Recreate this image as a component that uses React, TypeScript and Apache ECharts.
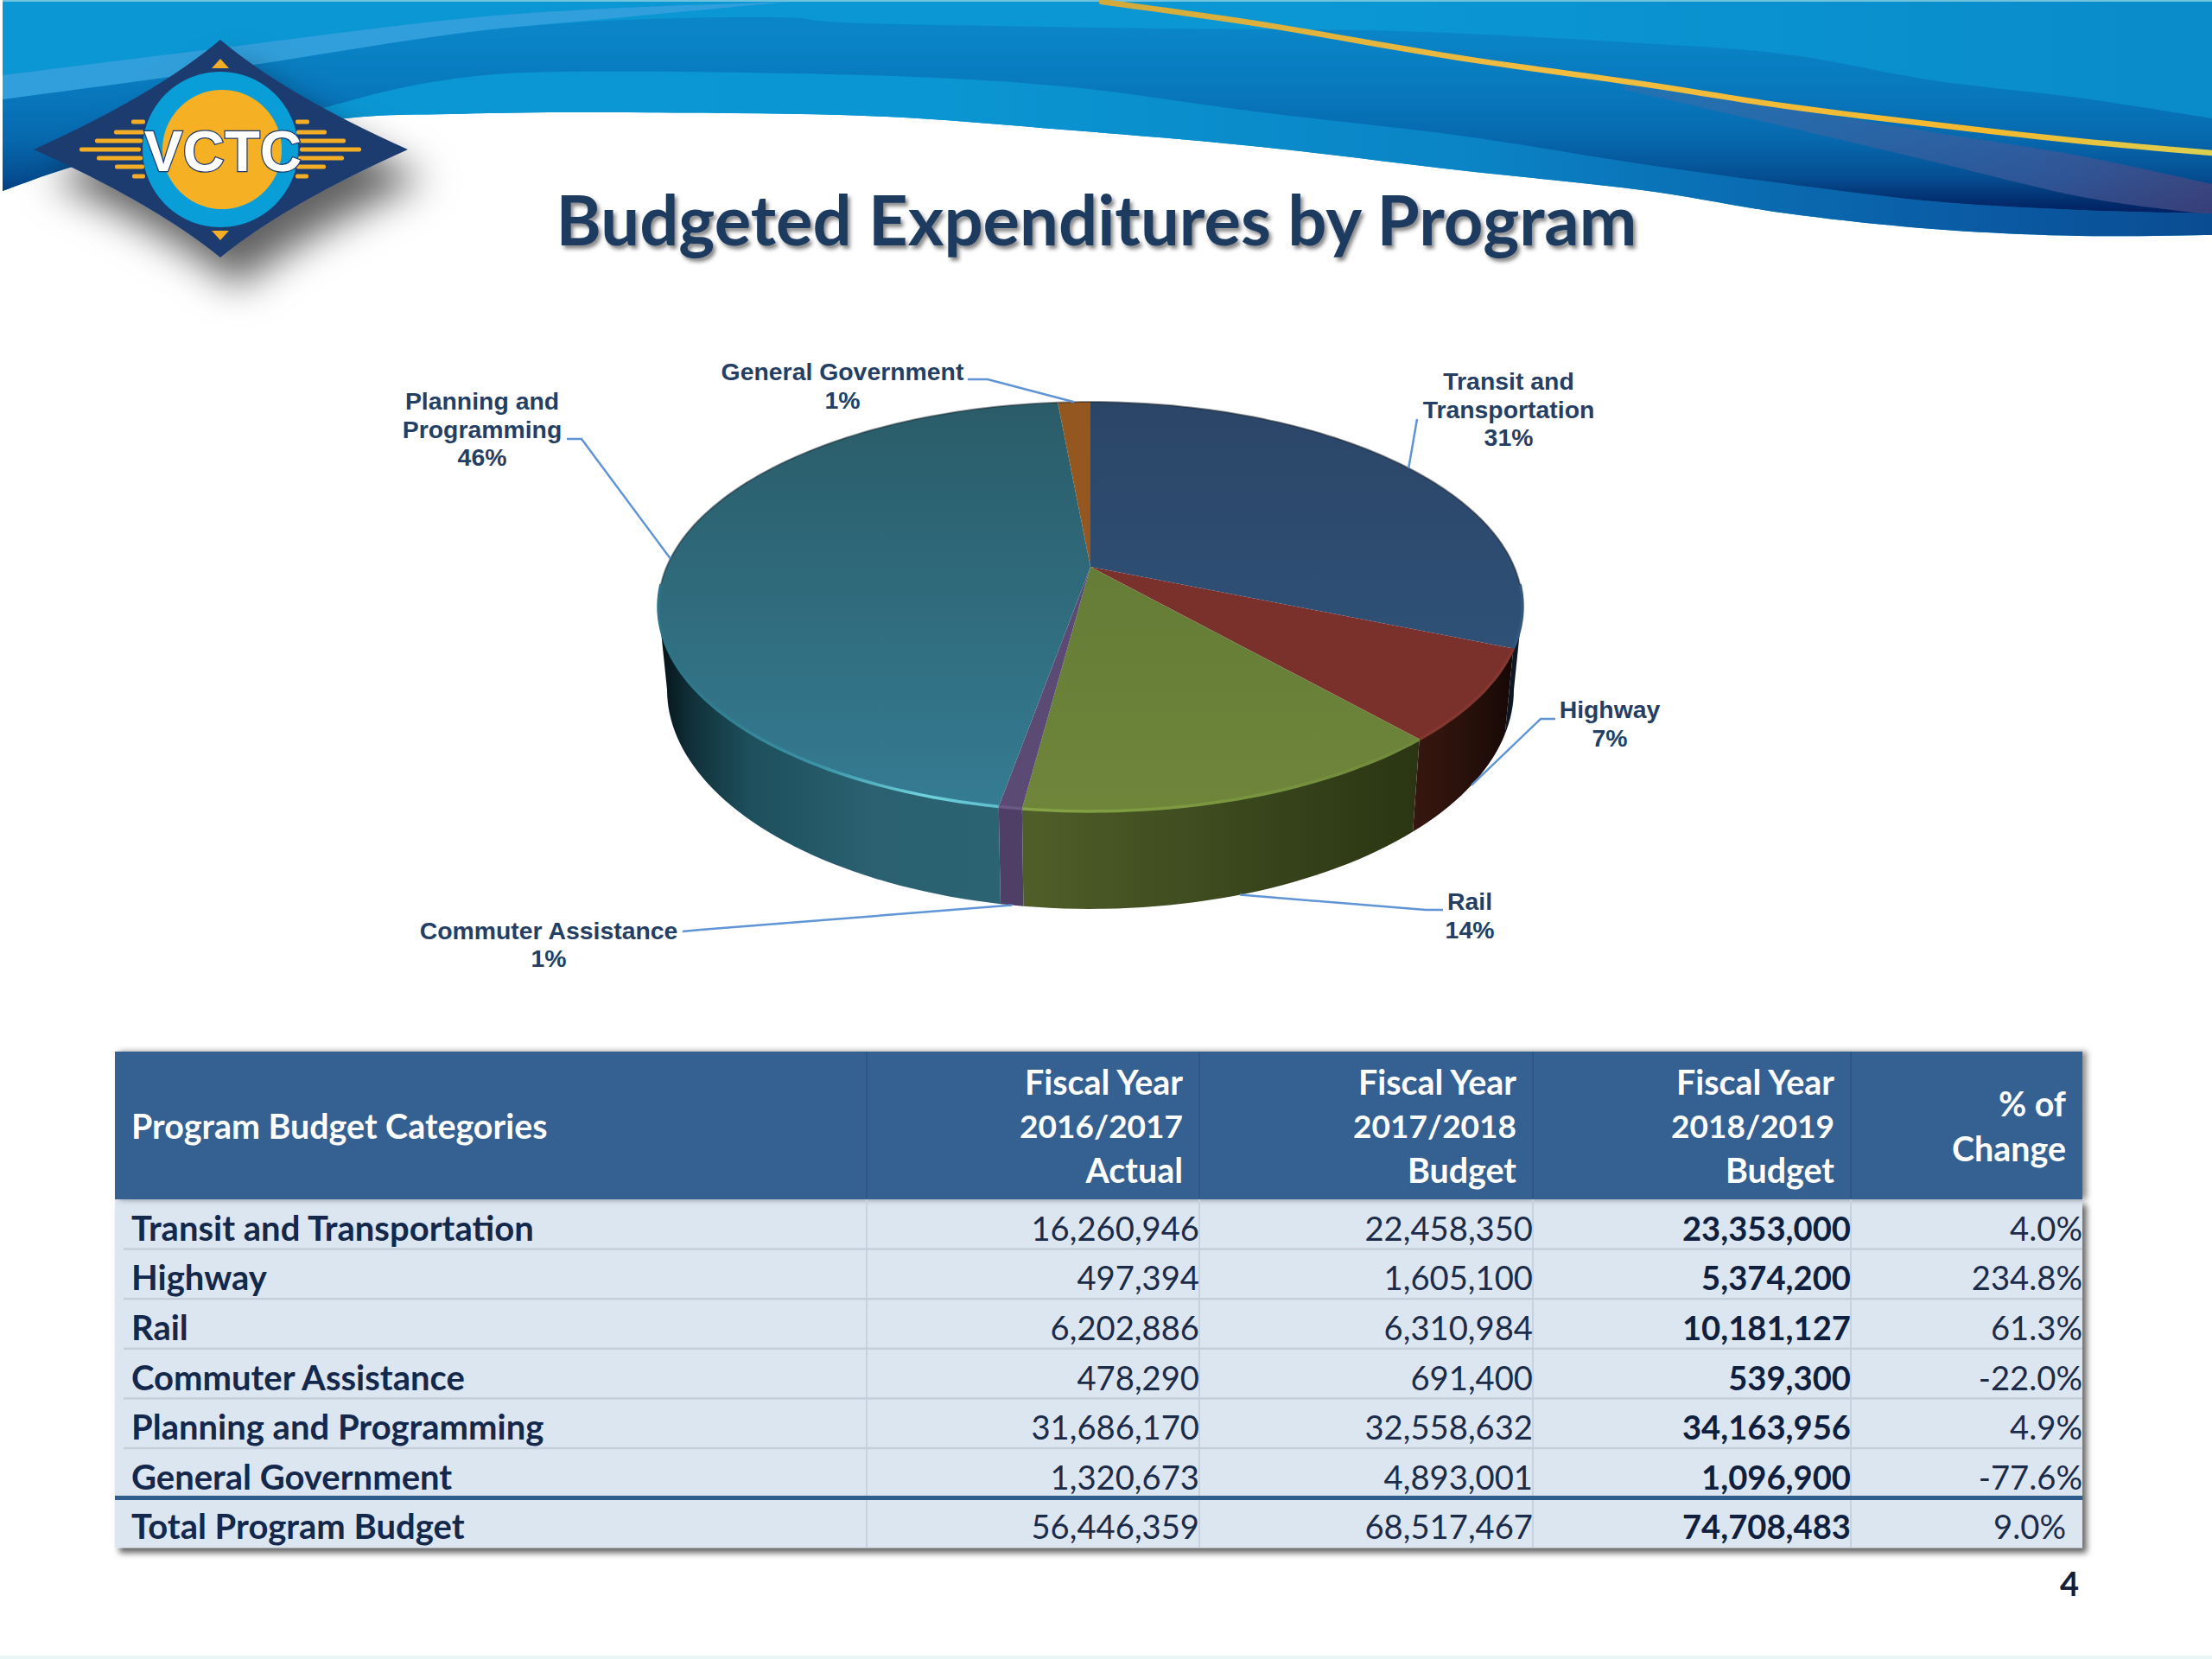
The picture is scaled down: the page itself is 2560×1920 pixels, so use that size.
import React, { useEffect, useRef } from "react";
import * as echarts from "echarts";

const categories = ["Transit and Transportation", "Highway", "Rail", "Commuter Assistance", "Planning and Programming", "General Government"];
const actual1617 = [16260946, 497394, 6202886, 478290, 31686170, 1320673];
const budget1718 = [22458350, 1605100, 6310984, 691400, 32558632, 4893001];
const budget1819 = [23353000, 5374200, 10181127, 539300, 34163956, 1096900];
const pctChange = [4.0, 234.8, 61.3, -22.0, 4.9, -77.6];
const totalLabel = "Total Program Budget";
const totals = [56446359, 68517467, 74708483];
const totalPct = 9.0;
const headerLines = [["Fiscal Year", "2016/2017", "Actual"], ["Fiscal Year", "2017/2018", "Budget"], ["Fiscal Year", "2018/2019", "Budget"]];
const changeHeader = ["% of", "Change"];
const firstHeader = "Program Budget Categories";
const titleText = "Budgeted Expenditures by Program";
const pieLabelLines = [["Transit and", "Transportation"], ["Highway"], ["Rail"], ["Commuter Assistance"], ["Planning and", "Programming"], ["General Government"]];

const LABEL_FONT = '"Liberation Sans"';
const TABLE_FONT = "Lato";

// Pie projection: top face and bottom face are perspective circles
const CX = 1262, K = 0.194;
const TOP = { y: 656, a: 228, b: 490.5 };
const BOT = { y: 748.7, a: 244.4, b: 480.7 };
const TANGENT = 101.2;
const pieSum = budget1819.reduce((a, b) => a + b, 0);
const project = (deg: number, bottom: boolean) => {
  const r = (deg * Math.PI) / 180;
  const u = Math.sin(r), v = Math.cos(r), w = 1 + K * v;
  const f = bottom ? BOT : TOP;
  return [CX + (f.b * u) / w, f.y - (f.a * v) / w];
};
const sliceAngles = (i: number) => {
  let acc = 0;
  for (let j = 0; j < i; j++) acc += budget1819[j];
  return [(acc / pieSum) * 360, ((acc + budget1819[i]) / pieSum) * 360];
};
const arc = (a0: number, a1: number, bottom: boolean) => {
  const n = Math.max(2, Math.ceil(Math.abs(a1 - a0) / 1.5));
  const pts: number[][] = [];
  for (let i = 0; i <= n; i++) pts.push(project(a0 + ((a1 - a0) * i) / n, bottom));
  return pts;
};
const grad = (x: number, y: number, x2: number, y2: number, stops: [number, string][]) => ({
  type: "linear", x, y, x2, y2, global: true,
  colorStops: stops.map(([offset, color]) => ({ offset, color })),
});

const topFills = [
  grad(0, 465, 0, 800, [[0, "#2b4567"], [1, "#2f5379"]]),
  "#7a312c",
  grad(0, 680, 0, 940, [[0, "#667d37"], [1, "#6e853a"]]),
  "#5b4a74",
  grad(0, 465, 0, 930, [[0, "#2a5c68"], [1, "#357b92"]]),
  "#93571f",
];
const rimColors = [
  "#33587f", "#84372f",
  grad(1180, 0, 1640, 0, [[0, "#86a345"], [1, "#6f8a3a"]]),
  "#6a5885",
  grad(780, 0, 1165, 0, [[0, "#2c7486"], [0.45, "#3c96a8"], [0.75, "#6fd2dc"], [1, "#5bbccb"]]),
  "#a0622a",
];
const sideFills = [
  "#0d1824",
  grad(1635, 0, 1752, 0, [[0, "#37170f"], [0.5, "#2a110b"], [1, "#150805"]]),
  grad(1175, 0, 1640, 0, [[0, "#515f2a"], [0.5, "#3c4a1e"], [1, "#2b3513"]]),
  "#4f3f66",
  grad(768, 0, 1165, 0, [[0, "#07161b"], [0.08, "#103039"], [0.25, "#1d4f5c"], [0.6, "#2a6070"], [1, "#2c6473"]]),
  "#222222",
];

const labelLayout = [
  { cx: 1746, ys: [441, 474, 506], from: [[1640, 485]] },
  { cx: 1863, ys: [821, 854], from: [[1800, 832], [1783, 832]] },
  { cx: 1701, ys: [1043, 1076], from: [[1670, 1053], [1650, 1053]] },
  { cx: 635, ys: [1077, 1109], from: [[790, 1078], [811, 1076]] },
  { cx: 558, ys: [464, 497, 529], from: [[656, 508], [673, 508]] },
  { cx: 975, ys: [430, 463], from: [[1120, 439], [1143, 439]] },
];

const spline = (p: number[][]) => {
  const out: number[][] = [];
  for (let i = 0; i < p.length - 1; i++) {
    const p0 = p[Math.max(i - 1, 0)], p1 = p[i], p2 = p[i + 1], p3 = p[Math.min(i + 2, p.length - 1)];
    for (let t = 0; t < 1; t += 0.1) {
      const t2 = t * t, t3 = t2 * t;
      const f = (a: number, b: number, c: number, d: number) => 0.5 * (2 * b + (c - a) * t + (2 * a - 5 * b + 4 * c - d) * t2 + (3 * b - a - 3 * c + d) * t3);
      out.push([f(p0[0], p1[0], p2[0], p3[0]), f(p0[1], p1[1], p2[1], p3[1])]);
    }
  }
  out.push(p[p.length - 1]);
  return out;
};

const whiteEdge = [[3, 221], [87, 192], [200, 165], [400, 137], [520, 132], [700, 130], [1000, 134], [1230, 150], [1459, 170], [1689, 197], [1900, 220], [2068, 247], [2237, 265], [2405, 273], [2560, 272]];
const bandTop = [[3, 115], [260, 80], [520, 40], [700, 24], [898, 20], [1000, 27], [1344, 33], [1620, 36], [1900, 50], [2068, 63], [2237, 93], [2405, 113], [2560, 137]];
const bandBottom = [[300, 150], [367, 127], [500, 95], [653, 83], [1000, 87], [1230, 100], [1459, 130], [1689, 157], [1900, 190], [2068, 213], [2237, 233], [2405, 243], [2560, 247]];
const leftEdge = [[300, 150], [200, 165], [87, 192], [3, 221]];
const lightTop = [[3, 87], [260, 55], [520, 23], [700, 10], [914, 2]];
const lightBottom = [[3, 115], [260, 80], [520, 40], [700, 22], [914, 2]];
const ribbonTop = [[1880, 98], [2068, 126], [2237, 153], [2405, 180], [2560, 213]];
const ribbonBottom = [[1880, 104], [2068, 147], [2237, 187], [2405, 227], [2530, 245], [2560, 247]];
const goldLine = [[1275, 2], [1459, 28], [1689, 67], [1900, 97], [2068, 123], [2237, 144], [2405, 163], [2560, 177]];

const txt = (text: string, x: number, y: number, size: number, weight: string, family: string, fill: string, align: string, extra: any = {}) => ({
  type: "text", x, y, silent: true,
  style: { text, x: 0, y: 0, fill, fontSize: size, fontWeight: weight, fontFamily: family, align, textAlign: align, verticalAlign: "middle", textVerticalAlign: "middle", ...extra },
});

const DIAMOND = "M255 46 Q331 110 472 173 Q331 236 255 298 Q179 236 39 173 Q179 110 255 46 Z";

const fmt = (v: number) => v.toLocaleString("en-US");
const pct = (v: number) => `${v.toFixed(1)}%`;

const buildBackground = () => {
  const els: any[] = [];
  els.push({ type: "rect", shape: { x: 0, y: 0, width: 2560, height: 1920 }, style: { fill: "#ffffff" } });
  els.push({ type: "rect", shape: { x: 0, y: 1916, width: 2560, height: 4 }, style: { fill: "#e6f5f3" } });
  const white = spline(whiteEdge);
  els.push({ type: "polygon", shape: { points: [[3, 2], [2560, 2], ...white.slice().reverse()] }, style: {
    fill: grad(0, 0, 2560, 0, [[0, "#0a97d4"], [0.6, "#0a97d4"], [1, "#0a8bca"]]) } });
  els.push({ type: "rect", shape: { x: 3, y: 0, width: 2557, height: 2 }, style: { fill: "#6fc3dc" } });
  els.push({ type: "polygon", shape: { points: [...spline(bandBottom), ...white.filter((p) => p[0] >= 300).reverse()] }, style: {
    fill: grad(300, 0, 2560, 0, [[0, "#0a97d4"], [0.35, "#0a96d2"], [0.62, "#0a84c6"], [0.75, "#0a6eb3"], [0.88, "#0a5ba4"], [1, "#0a4c92"]]) } });
  els.push({ type: "polygon", shape: { points: [...spline(bandTop), ...spline(bandBottom).reverse(), ...spline(leftEdge)] }, style: {
    fill: grad(0, 30, 0, 247, [[0, "#0a86c8"], [0.35, "#0878bd"], [0.6, "#0769ae"], [0.8, "#054f93"], [0.93, "#032f70"], [1, "#021f60"]]) } });
  els.push({ type: "polygon", shape: { points: [...spline(lightTop), ...spline(lightBottom).reverse()] }, style: { fill: "#38a0dc", opacity: 0.85 } });
  els.push({ type: "polygon", shape: { points: [...spline(ribbonTop), ...spline(ribbonBottom).reverse()] }, style: {
    fill: grad(1880, 0, 2560, 0, [[0, "rgba(60,110,170,0.5)"], [0.7, "rgba(60,90,155,0.75)"], [1, "rgba(70,70,125,0.8)"]]) } });
  els.push({ type: "polyline", shape: { points: spline(goldLine) }, style: { fill: "none", lineWidth: 6.5, lineCap: "round",
    stroke: grad(1275, 0, 2560, 0, [[0, "#d2aa3a"], [0.4, "#f2bd40"], [0.8, "#f3b92f"], [1, "#dcd050"]]) } });
  // logo
  els.push({ type: "vctcDiamond", style: { fill: "#1c3a6e", shadowBlur: 46, shadowColor: "rgba(0,0,0,0.62)", shadowOffsetX: 20, shadowOffsetY: 34 } });
  els.push({ type: "circle", shape: { cx: 255, cy: 173, r: 90 }, style: { fill: "#0a9ed8" } });
  els.push({ type: "circle", shape: { cx: 257, cy: 173, r: 69 }, style: { fill: "#f6b023" } });
  const rods: [number, number, number][] = [[141, 152, 168], [153, 132, 167], [163, 110, 165], [173, 92, 163], [183, 112, 165], [193, 133, 167], [204, 153, 168]];
  rods.forEach(([y, x0, x1]) => {
    const wid = x1 - x0;
    els.push({ type: "rect", shape: { x: x0, y: y - 2.5, width: wid, height: 5, r: 2 }, style: { fill: "#f4ae25" } });
    els.push({ type: "rect", shape: { x: 510 - x1, y: y - 2.5, width: wid, height: 5, r: 2 }, style: { fill: "#f4ae25" } });
  });
  els.push({ type: "polygon", shape: { points: [[255, 68], [245, 79], [265, 79]] }, style: { fill: "#f4ae25" } });
  els.push({ type: "polygon", shape: { points: [[255, 278], [245, 267], [265, 267]] }, style: { fill: "#f4ae25" } });
  els.push(txt("VCTC", 258, 174, 67, "bold", LABEL_FONT, "#ffffff", "center", { stroke: "#1c3a6e", lineWidth: 2.5 }));
  // title
  els.push(txt(titleText, 1269, 253, 79.6, "bold", TABLE_FONT, "#1f3a5f", "center", { textShadowColor: "rgba(40,40,40,0.55)", textShadowBlur: 4, textShadowOffsetX: 3, textShadowOffsetY: 4 }));
  return els;
};

const buildTable = () => {
  const els: any[] = [];
  const colX = [133, 1003, 1388, 1774, 2142, 2410];
  const headTop = 1217, headBot = 1388, rowH = 57.6;
  const nRows = categories.length + 1;
  const bottom = headBot + rowH * nRows;
  els.push({ type: "rect", shape: { x: colX[0], y: headBot, width: colX[5] - colX[0], height: bottom - headBot }, style: { fill: "#dce6f1", shadowBlur: 7, shadowColor: "rgba(0,0,0,0.6)", shadowOffsetX: 5, shadowOffsetY: 6 } });
  els.push({ type: "rect", shape: { x: colX[0], y: headTop, width: colX[5] - colX[0], height: headBot - headTop }, style: { fill: "#366092", shadowBlur: 7, shadowColor: "rgba(0,0,0,0.45)", shadowOffsetX: 5, shadowOffsetY: 0 } });
  for (let i = 1; i < 5; i++) {
    els.push({ type: "line", shape: { x1: colX[i], y1: headTop, x2: colX[i], y2: headBot }, style: { stroke: "#2f5686", lineWidth: 2 } });
    els.push({ type: "line", shape: { x1: colX[i], y1: headBot, x2: colX[i], y2: bottom }, style: { stroke: "#c8d2de", lineWidth: 2 } });
  }
  for (let r = 1; r < nRows - 1; r++) {
    const y = headBot + r * rowH;
    els.push({ type: "line", shape: { x1: colX[0] + 10, y1: y, x2: colX[5], y2: y }, style: { stroke: "#c5cfdb", lineWidth: 2.5 } });
  }
  const thickY = headBot + (nRows - 1) * rowH;
  els.push({ type: "line", shape: { x1: colX[0], y1: thickY, x2: colX[5], y2: thickY }, style: { stroke: "#2f5d8e", lineWidth: 5 } });

  const HS = 39.4, DS = 37, LS = 40, NS = 38.2;
  els.push(txt(firstHeader, 152, 1302, HS, "bold", TABLE_FONT, "#ffffff", "left"));
  headerLines.forEach((lines, c) => lines.forEach((l, i) => els.push(txt(l, colX[c + 2] - 19, 1251 + i * 51, i === 1 ? DS : HS, "bold", TABLE_FONT, "#ffffff", "right"))));
  changeHeader.forEach((l, i) => els.push(txt(l, colX[5] - 19, 1276 + i * 52, HS, "bold", TABLE_FONT, "#ffffff", "right")));

  const ink = "#14284b";
  const rowY = (r: number) => headBot + rowH * r + rowH / 2 + 4;
  const columns = [actual1617, budget1718, budget1819];
  categories.forEach((cat, r) => {
    els.push(txt(cat, 152, rowY(r), LS, "bold", TABLE_FONT, ink, "left"));
    columns.forEach((col, c) => els.push(txt(fmt(col[r]), colX[c + 2], rowY(r), NS, c === 2 ? "bold" : "normal", TABLE_FONT, c === 2 ? "#0f1f3d" : "#1c2c48", "right")));
    els.push(txt(pct(pctChange[r]), colX[5], rowY(r), NS, "normal", TABLE_FONT, "#1c2c48", "right"));
  });
  const tr = nRows - 1;
  els.push(txt(totalLabel, 152, rowY(tr), LS, "bold", TABLE_FONT, ink, "left"));
  totals.forEach((v, c) => els.push(txt(fmt(v), colX[c + 2], rowY(tr), NS, c === 2 ? "bold" : "normal", TABLE_FONT, c === 2 ? "#0f1f3d" : "#1c2c48", "right")));
  els.push(txt(pct(totalPct), colX[5] - 19, rowY(tr), NS, "normal", TABLE_FONT, "#1c2c48", "right"));
  els.push(txt("4", 2406, 1832, 38, "bold", TABLE_FONT, "#14203a", "right"));
  return els;
};

const renderSide = (p: any, api: any) => {
  const i = p.dataIndex;
  api.value(0);
  const [s, e] = sliceAngles(i);
  const a0 = Math.max(s, TANGENT), a1 = Math.min(e, 360 - TANGENT);
  if (a1 <= a0) return { type: "group", children: [] };
  return { type: "polygon", shape: { points: [...arc(a0, a1, false), ...arc(a1, a0, true)] }, style: { fill: sideFills[i] } };
};

const renderTop = (p: any, api: any) => {
  const i = p.dataIndex;
  api.value(0);
  const [s, e] = sliceAngles(i);
  const children: any[] = [{ type: "polygon", shape: { points: [[CX, TOP.y], ...arc(s, e, false)] }, style: { fill: topFills[i] } }];
  children.push({ type: "polyline", shape: { points: arc(s, e, false) }, style: { fill: "none", stroke: "rgba(15,25,30,0.45)", lineWidth: 2 } });
  const fa0 = Math.max(s, 95), fa1 = Math.min(e, 265);
  if (fa1 > fa0) children.push({ type: "polyline", shape: { points: arc(fa0, fa1, false) }, style: { fill: "none", stroke: rimColors[i], lineWidth: 3.5 } });
  return { type: "group", children };
};

const renderLabel = (p: any, api: any) => {
  const i = p.dataIndex;
  const value = api.value(0);
  const [s, e] = sliceAngles(i);
  const mid = (s + e) / 2;
  const front = Math.cos((mid * Math.PI) / 180) < 0;
  const anchor = project(mid, front);
  const lay = labelLayout[i];
  const children: any[] = [{ type: "polyline", shape: { points: [...lay.from, anchor] }, style: { fill: "none", stroke: "#5f94d6", lineWidth: 2.5 } }];
  const lines = [...pieLabelLines[i], `${Math.round((value / pieSum) * 100)}%`];
  lines.forEach((l, k) => children.push({
    type: "text", x: lay.cx, y: lay.ys[k],
    style: { text: l, x: 0, y: 0, fill: "#243f63", fontSize: 28.4, fontWeight: "bold", fontFamily: LABEL_FONT, align: "center", textAlign: "center", verticalAlign: "middle", textVerticalAlign: "middle" },
  }));
  return { type: "group", children };
};

export default function App() {
  const ref = useRef<HTMLDivElement>(null);
  useEffect(() => {
    echarts.graphic.registerShape("vctcDiamond", echarts.graphic.extendPath(DIAMOND, {}));
    const chart = echarts.init(ref.current!, null, { renderer: "svg" });
    chart.setOption({
      animation: false,
      graphic: { elements: [{ type: "group", silent: true, z: 0, children: [...buildBackground(), ...buildTable()] }] },
      series: [
        { type: "custom", coordinateSystem: "none", z: 10, silent: true, data: budget1819, renderItem: renderSide },
        { type: "custom", coordinateSystem: "none", z: 11, silent: true, data: budget1819, renderItem: renderTop },
        { type: "custom", coordinateSystem: "none", z: 12, silent: true, data: budget1819, renderItem: renderLabel },
      ],
    });
    return () => chart.dispose();
  }, []);
  return <div ref={ref} style={{ position: "absolute", left: 0, top: 0, width: 2560, height: 1920 }} />;
}
